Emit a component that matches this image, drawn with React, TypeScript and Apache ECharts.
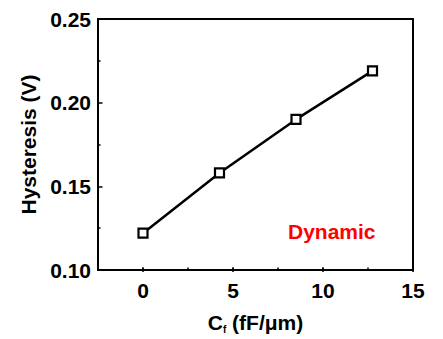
import React, { useEffect, useRef } from "react";
import * as echarts from "echarts";

// Feedback capacitance per unit length (fF/µm) and measured hysteresis (V)
const capacitance = [0, 4.25, 8.5, 12.75];
const hysteresis = [0.122, 0.158, 0.19, 0.219];

const xMajorTicks = [0, 5, 10, 15];
const yTicks = [0.1, 0.15, 0.2, 0.25];

const FONT = '"Liberation Sans", Arial, Helvetica, sans-serif';

export default function App() {
  const ref = useRef<HTMLDivElement>(null);

  useEffect(() => {
    if (!ref.current) return;
    const chart = echarts.init(ref.current, null, { renderer: "svg" });

    const baseText = { fontFamily: FONT, fontWeight: "bold" as const, color: "#000" };

    chart.setOption({
      animation: false,
      backgroundColor: "#fff",
      grid: [
        {
          left: 98,
          right: 30,
          top: 19,
          bottom: 67,
          show: true,
          borderColor: "#000",
          borderWidth: 2,
          backgroundColor: "transparent",
        },
        // Companion grid spanning 0..15 so the labelled ticks land on multiples of 5
        { left: 143, right: 30, top: 19, bottom: 67, show: false },
      ],
      xAxis: [
        {
          type: "value",
          gridIndex: 0,
          min: -2.5,
          max: 15,
          interval: 2.5,
          axisLine: { onZero: false, lineStyle: { color: "#000", width: 2 } },
          axisTick: { inside: true, length: 2.5, lineStyle: { color: "#000", width: 1.5 } },
          axisLabel: { show: false },
          splitLine: { show: false },
          name: "{main|C}{sub|f}{main| (fF/μm)}",
          nameLocation: "middle",
          nameGap: 40,
          nameTextStyle: {
            ...baseText,
            fontSize: 21,
            rich: {
              main: { ...baseText, fontSize: 21, lineHeight: 24 },
              sub: { ...baseText, fontSize: 10, lineHeight: 24, verticalAlign: "bottom" },
            },
          },
        },
        {
          type: "value",
          gridIndex: 1,
          min: 0,
          max: 15,
          interval: 5,
          axisLine: { show: false, onZero: false },
          axisTick: { inside: true, length: 4.5, lineStyle: { color: "#000", width: 1.5 } },
          axisLabel: {
            ...baseText,
            fontSize: 21,
            margin: 8,
            formatter: (v: number) => (xMajorTicks.includes(v) ? String(v) : ""),
          },
          splitLine: { show: false },
        },
      ],
      yAxis: [
        {
          type: "value",
          gridIndex: 0,
          min: yTicks[0],
          max: yTicks[yTicks.length - 1],
          interval: 0.05,
          axisLine: { onZero: false, lineStyle: { color: "#000", width: 2 } },
          axisTick: { inside: true, length: 4.5, lineStyle: { color: "#000", width: 1.5 } },
          minorTick: { show: true, splitNumber: 2, length: 2.5, lineStyle: { color: "#000", width: 1.5 } },
          axisLabel: {
            ...baseText,
            fontSize: 21,
            margin: 7,
            formatter: (v: number) => v.toFixed(2),
          },
          splitLine: { show: false },
          name: "Hysteresis (V)",
          nameLocation: "middle",
          nameGap: 57,
          nameTextStyle: { ...baseText, fontSize: 21 },
        },
        {
          type: "value",
          gridIndex: 1,
          min: 0,
          max: 1,
          show: false,
          axisLine: { show: false, onZero: false },
          axisTick: { show: false },
          axisLabel: { show: false },
          splitLine: { show: false },
        },
      ],
      graphic: [
        {
          type: "text",
          left: 288,
          top: 221,
          style: {
            text: "Dynamic",
            fill: "#ff0000",
            font: `bold 21px ${FONT}`,
          },
        },
      ],
      series: [
        {
          type: "line",
          xAxisIndex: 0,
          yAxisIndex: 0,
          data: capacitance.map((c, i) => [c, hysteresis[i]]),
          lineStyle: { color: "#000", width: 2.5 },
          symbol: "rect",
          symbolSize: 9,
          itemStyle: { color: "#fff", borderColor: "#000", borderWidth: 2.2 },
        },
      ],
    });

    return () => chart.dispose();
  }, []);

  return (
    <div
      ref={ref}
      style={{ position: "fixed", left: 0, top: 0, width: 443, height: 339 }}
    />
  );
}
